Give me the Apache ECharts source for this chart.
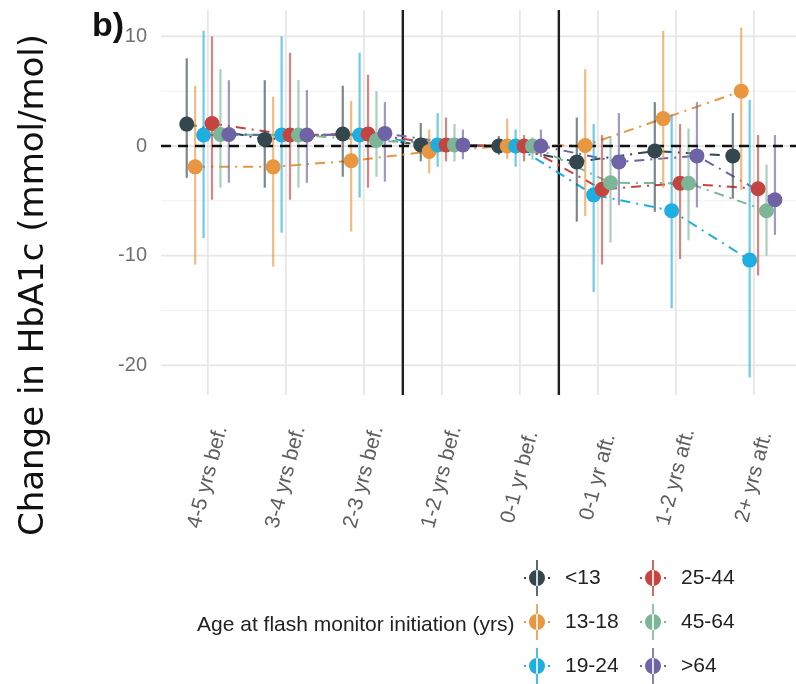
<!DOCTYPE html>
<html>
<head>
<meta charset="utf-8">
<script src="https://cdn.jsdelivr.net/npm/echarts@6/dist/echarts.min.js"></script>
<style>html,body{margin:0;padding:0;background:#fff}#c{width:796px;height:684px}</style>
</head>
<body>
<div id="c"></div>
<script>
// ---- data ----
const categories = ['4-5 yrs bef.', '3-4 yrs bef.', '2-3 yrs bef.', '1-2 yrs bef.', '0-1 yr bef.', '0-1 yr aft.', '1-2 yrs aft.', '2+ yrs aft.'];
const groups = ['<13', '13-18', '19-24', '25-44', '45-64', '>64'];
const groupColors = ['#34474f', '#e8963f', '#1eaee0', '#c4453f', '#7db598', '#6e63a5'];

const est_u13 = [2.0, 0.6, 1.1, 0.1, 0.0, -1.45, -0.45, -0.9];
const lo_u13  = [-2.9, -3.8, -2.8, -1.4, -0.8, -6.9, -6.0, -4.8];
const hi_u13  = [8.0, 6.0, 5.5, 2.1, 0.9, 2.6, 4.0, 3.0];

const est_13_18 = [-1.9, -1.9, -1.35, -0.5, 0.0, 0.05, 2.5, 5.0];
const lo_13_18  = [-10.8, -11.0, -7.8, -2.5, -1.2, -6.4, -3.8, -4.0];
const hi_13_18  = [5.5, 4.5, 4.1, 1.5, 2.5, 7.0, 10.5, 10.8];

const est_19_24 = [1.0, 1.0, 1.0, 0.1, 0.0, -4.45, -5.9, -10.4];
const lo_19_24  = [-8.4, -7.9, -4.7, -1.9, -1.9, -13.3, -14.8, -21.1];
const hi_19_24  = [10.5, 10.0, 8.5, 3.0, 1.5, 2.0, 2.9, 4.2];

const est_25_44 = [2.05, 1.0, 1.1, 0.1, 0.0, -3.95, -3.4, -3.9];
const lo_25_44  = [-4.9, -4.9, -3.8, -1.4, -1.4, -10.8, -10.3, -11.8];
const hi_25_44  = [10.0, 8.5, 6.5, 2.6, 1.0, 1.0, 2.0, 1.0];

const est_45_64 = [1.05, 1.0, 0.5, 0.1, 0.0, -3.35, -3.4, -5.9];
const lo_45_64  = [-3.8, -3.8, -2.8, -1.4, -1.25, -8.8, -8.6, -10.0];
const hi_45_64  = [7.0, 6.0, 5.0, 2.0, 0.8, 0.9, 1.6, -1.7];

const est_o64 = [1.05, 1.0, 1.15, 0.1, 0.0, -1.45, -0.9, -4.9];
const lo_o64  = [-3.35, -3.35, -3.25, -1.2, -1.0, -5.4, -5.6, -8.1];
const hi_o64  = [6.0, 5.1, 4.0, 1.5, 1.5, 3.0, 4.0, 1.0];

const yTickLabels = [-20, -10, 0, 10];
const yMinorGrid = [-15, -5, 5];
const phaseBreaks = [2.5, 4.5];
const refLine = [0];

const estimates = [est_u13, est_13_18, est_19_24, est_25_44, est_45_64, est_o64];
const lowers = [lo_u13, lo_13_18, lo_19_24, lo_25_44, lo_45_64, lo_o64];
const uppers = [hi_u13, hi_13_18, hi_19_24, hi_25_44, hi_45_64, hi_o64];

// ---- build ----
const dodgeStep = 0.108;
const dodge = k => (k - (groups.length - 1) / 2) * dodgeStep;
const FONT = '"Liberation Sans", Arial, sans-serif';

function hexA(hex, a) {
  const n = parseInt(hex.slice(1), 16);
  return 'rgba(' + (n >> 16) + ',' + ((n >> 8) & 255) + ',' + (n & 255) + ',' + a + ')';
}

function hLines(values, style, z) {
  return {
    type: 'custom', silent: true, z: z, clip: false,
    data: values.map(v => [0, v]),
    encode: { x: 0, y: 1 },
    renderItem: (params, api) => {
      const y = api.coord([0, api.value(1)])[1];
      const cs = params.coordSys;
      return { type: 'line', shape: { x1: cs.x, y1: y, x2: cs.x + cs.width, y2: y }, style: style };
    }
  };
}
function vLines(values, style, z) {
  return {
    type: 'custom', silent: true, z: z, clip: false,
    data: values.map(v => [v, 0]),
    encode: { x: 0, y: 1 },
    renderItem: (params, api) => {
      const x = api.coord([api.value(0), 0])[0];
      const cs = params.coordSys;
      return { type: 'line', shape: { x1: x, y1: cs.y, x2: x, y2: cs.y + cs.height }, style: style };
    }
  };
}

const series = [];
// guides
series.push(hLines(yMinorGrid, { stroke: '#f0f0f0', lineWidth: 1 }, 0));
series.push(hLines(yTickLabels, { stroke: '#e6e6e6', lineWidth: 1.8 }, 0));
series.push(vLines(categories.map((c, i) => i), { stroke: '#e6e6e6', lineWidth: 1.8 }, 0));
series.push(vLines(phaseBreaks, { stroke: '#1e1e1e', lineWidth: 2.4 }, 1));

// points first (legend colour comes from first series with the name)
groups.forEach((g, k) => {
  series.push({
    name: g, type: 'scatter', z: 6,
    symbol: 'circle', symbolSize: 15,
    itemStyle: { color: groupColors[k], opacity: 1 },
    data: estimates[k].map((v, i) => [i + dodge(k), v])
  });
});
groups.forEach((g, k) => {
  series.push({
    name: g, type: 'line', z: 3, showSymbol: false, symbol: 'none',
    lineStyle: { color: groupColors[k], width: 2, type: [10, 6, 2, 6] },
    itemStyle: { color: groupColors[k] },
    data: estimates[k].map((v, i) => [i + dodge(k), v])
  });
  series.push({
    name: g, type: 'custom', z: 4, clip: false,
    itemStyle: { color: groupColors[k] },
    data: estimates[k].map((v, i) => [i + dodge(k), lowers[k][i], uppers[k][i]]),
    encode: { x: 0, y: [1, 2] },
    renderItem: (params, api) => {
      const p1 = api.coord([api.value(0), api.value(1)]);
      const p2 = api.coord([api.value(0), api.value(2)]);
      return { type: 'line', shape: { x1: p1[0], y1: p1[1], x2: p2[0], y2: p2[1] },
               style: { stroke: hexA(groupColors[k], 0.65), lineWidth: 2.2 } };
    }
  });
});
// zero reference line
series.push(hLines(refLine, { stroke: '#111', lineWidth: 2.5, lineDash: [10, 7] }, 5));

const legendIcon = 'path://M12.2,0 H13.8 V36 H12.2 Z M5,18 A8,8 0 1,0 21,18 A8,8 0 1,0 5,18 Z M0,17 H2 V19 H0 Z M24,17 H26 V19 H24 Z';
const legendCommon = {
  orient: 'vertical', top: 560, padding: 0, itemWidth: 26, itemHeight: 36, itemGap: 8,
  icon: legendIcon, selectedMode: false,
  textStyle: { fontSize: 21, color: '#222', fontFamily: FONT, padding: [0, 0, 0, 10] }
};

const option = {
  animation: false,
  backgroundColor: '#fff',
  grid: { left: 161, right: 0, top: 10, bottom: 289, containLabel: false },
  xAxis: {
    type: 'value', min: -0.6, max: 7.54,
    axisLine: { show: false }, axisTick: { show: false }, splitLine: { show: false },
    axisLabel: {
      customValues: categories.map((c, i) => i),
      formatter: v => categories[Math.round(v)] || '',
      rotate: 75, align: 'center', verticalAlign: 'middle', margin: 82,
      fontSize: 21, color: '#5e5e5e', fontFamily: FONT
    }
  },
  yAxis: {
    type: 'value', min: -22.7, max: 12.4,
    axisLine: { show: false }, axisTick: { show: false }, splitLine: { show: false },
    axisLabel: {
      customValues: yTickLabels,
      fontSize: 20, color: '#707070', fontFamily: FONT, margin: 14
    }
  },
  legend: [
    Object.assign({}, legendCommon, { left: 524, data: groups.slice(0, 3) }),
    Object.assign({}, legendCommon, { left: 640, data: groups.slice(3) })
  ],
  graphic: [
    { type: 'text', x: 34, y: 285, rotation: Math.PI / 2,
      style: { text: 'Change in HbA1c (mmol/mol)', font: '34px "DejaVu Sans", sans-serif', fill: '#111',
               textAlign: 'center', textVerticalAlign: 'middle' } },
    { type: 'text', x: 92, y: 10,
      style: { text: 'b)', font: 'bold 34px ' + FONT, fill: '#111', textAlign: 'left', textVerticalAlign: 'top' } },
    { type: 'text', x: 197, y: 625,
      style: { text: 'Age at flash monitor initiation (yrs)', font: '21px ' + FONT, fill: '#222',
               textAlign: 'left', textVerticalAlign: 'middle' } }
  ],
  series: series
};

const chart = echarts.init(document.getElementById('c'), null, { renderer: 'canvas' });
chart.setOption(option);
</script>
</body>
</html>
